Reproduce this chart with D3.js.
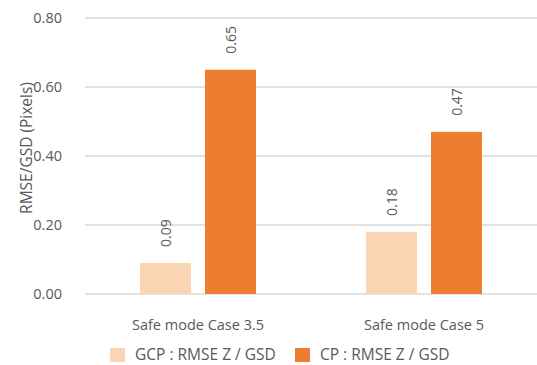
<!DOCTYPE html>
<html>
<head>
<meta charset="utf-8">
<script src="https://cdn.jsdelivr.net/npm/d3@7"></script>
<style>
  html, body { margin: 0; padding: 0; background: #fff; }
  text { font-family: "Open Sans", "Noto Sans", sans-serif; fill: #595959; }
</style>
</head>
<body>
<svg id="chart" width="537" height="365"></svg>
<script>
// Chart data
const categories = ["Safe mode Case 3.5", "Safe mode Case 5"];
const seriesNames = ["GCP : RMSE Z / GSD", "CP : RMSE Z / GSD"];
const gcpValues = [0.09, 0.18];
const cpValues = [0.65, 0.47];
const yTicks = [0, 0.2, 0.4, 0.6, 0.8];
const colors = ["#FBD4B4", "#ED7D31"];

const svg = d3.select("#chart");
const margin = { left: 85, right: 0, top: 18, bottom: 71 };
const W = 537, H = 365;
const plotBottom = H - margin.bottom;

const x0 = d3.scaleBand()
  .domain(categories)
  .range([margin.left, W - margin.right])
  .paddingInner(0)
  .paddingOuter(0);

const y = d3.scaleLinear().domain([0, 0.8]).range([plotBottom, margin.top]);

// Gridlines
svg.append("g").selectAll("line").data(yTicks).join("line")
  .attr("x1", margin.left).attr("x2", W)
  .attr("y1", d => y(d)).attr("y2", d => y(d))
  .attr("stroke", "#d9d9d9").attr("stroke-width", 1.3);

// Y tick labels
svg.append("g").selectAll("text").data(yTicks).join("text")
  .attr("x", 62).attr("y", d => y(d))
  .attr("dy", "0.35em")
  .attr("text-anchor", "end")
  .attr("font-size", 14.5)
  .text(d => d.toFixed(2));

// Y axis title
svg.append("text")
  .attr("transform", `translate(32,${y(0.4) - 8}) rotate(-90)`)
  .attr("text-anchor", "middle")
  .attr("font-size", 15.5)
  .text("RMSE/GSD (Pixels)");

// Bars: two series within each category
const barW = 51, gap = 14;
const data = categories.map((c, i) => ({ cat: c, vals: [gcpValues[i], cpValues[i]] }));
const x1 = d3.scaleOrdinal().domain([0, 1]).range([-(gap / 2 + barW), gap / 2]);

const groups = svg.append("g").selectAll("g").data(data).join("g")
  .attr("transform", d => `translate(${x0(d.cat) + x0.bandwidth() / 2},0)`);

groups.selectAll("rect").data(d => d.vals.map((v, k) => ({ v, k }))).join("rect")
  .attr("x", d => x1(d.k))
  .attr("width", barW)
  .attr("y", d => y(d.v))
  .attr("height", d => y(0) - y(d.v))
  .attr("fill", d => colors[d.k]);

// Rotated value labels above bars
groups.selectAll("text.val").data(d => d.vals.map((v, k) => ({ v, k }))).join("text")
  .attr("class", "val")
  .attr("transform", d => `translate(${x1(d.k) + barW / 2 + 5},${y(d.v) - 16}) rotate(-90)`)
  .attr("text-anchor", "start")
  .attr("font-size", 14)
  .text(d => d.v.toFixed(2));

// Category labels
svg.append("g").selectAll("text").data(categories).join("text")
  .attr("x", d => x0(d) + x0.bandwidth() / 2)
  .attr("y", 330)
  .attr("text-anchor", "middle")
  .attr("font-size", 14.5)
  .text(d => d);

// Legend
const legendX = [110, 295];
const lg = svg.append("g").selectAll("g").data(seriesNames).join("g")
  .attr("transform", (d, i) => `translate(${legendX[i]},348)`);
lg.append("rect").attr("width", 15).attr("height", 14).attr("fill", (d, i) => colors[i]);
lg.append("text").attr("x", 25).attr("y", 12).attr("font-size", 15.5).text(d => d);
</script>
</body>
</html>
